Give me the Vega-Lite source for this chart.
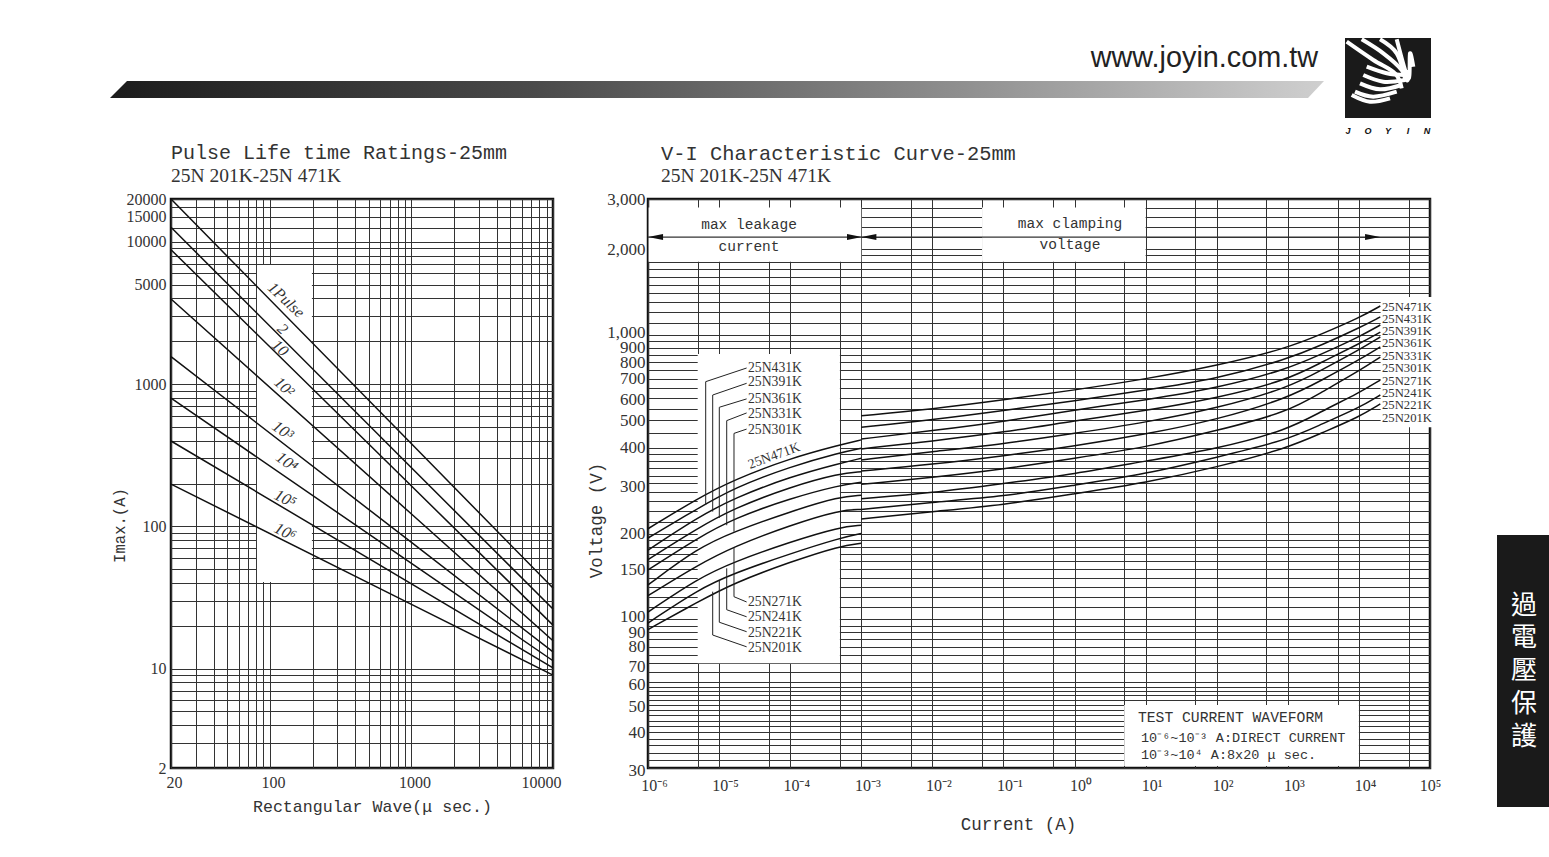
{
"$schema":"https://vega.github.io/schema/vega-lite/v6.json",
"background":"white",
"padding":{"left":110,"top":30,"right":0,"bottom":0},
"config":{"view":{"stroke":null},"axis":{"labelFont":"Liberation Serif","labelFontSize":16,"labelColor":"#333","titleFont":"Liberation Mono","titleColor":"#333","titleFontWeight":"normal","gridColor":"#333","gridWidth":1,"gridOpacity":1,"ticks":false,"domain":false,"labelOverlap":false,"labelBound":false,"labelFlush":false}},
"datasets":{
"header_band":[{"x":110,"y":98,"y2":98},{"x":127,"y":81,"y2":98},{"x":1308,"y":81,"y2":98},{"x":1324,"y":81,"y2":81}],
"header_logo":[{"x":1345,"x2":1431,"y":38,"y2":118}],
"header_stripes":[
{"s":"S1","x":1346.7,"y":41.7},{"s":"S1","x":1373.3,"y":60},{"s":"S1","x":1395,"y":73.3},{"s":"S1","x":1401.7,"y":88.3},
{"s":"S2","x":1361.7,"y":39.3},{"s":"S2","x":1383.3,"y":53.3},{"s":"S2","x":1401.7,"y":70},{"s":"S2","x":1405,"y":81.7},
{"s":"S3","x":1380,"y":39.3},{"s":"S3","x":1396.7,"y":53.3},{"s":"S3","x":1408.3,"y":70},{"s":"S3","x":1406.7,"y":80},
{"s":"S4","x":1396.7,"y":39.3},{"s":"S4","x":1410,"y":53.3},{"s":"S4","x":1413.3,"y":66.7},{"s":"S4","x":1408.3,"y":78.3},
{"s":"L1","x":1366.7,"y":66.7},{"s":"L1","x":1386.7,"y":73.3},{"s":"L1","x":1405,"y":75},
{"s":"L2","x":1363.3,"y":75},{"s":"L2","x":1383.3,"y":81.7},{"s":"L2","x":1405,"y":80},
{"s":"L3","x":1360,"y":83.3},{"s":"L3","x":1380,"y":89.3},{"s":"L3","x":1401.7,"y":85},
{"s":"L4","x":1355,"y":91.7},{"s":"L4","x":1373.3,"y":96.7},{"s":"L4","x":1396.7,"y":91.7},
{"s":"L5","x":1351.7,"y":95},{"s":"L5","x":1370,"y":101.7},{"s":"L5","x":1390,"y":98.3}],
"life_curves":[
{"p":"1Pulse","wave":20,"imax":20000},{"p":"1Pulse","wave":1000,"imax":380},{"p":"1Pulse","wave":10000,"imax":36.8},
{"p":"2","wave":20,"imax":12650},{"p":"2","wave":1000,"imax":258},{"p":"2","wave":10000,"imax":26.2},
{"p":"10","wave":20,"imax":8800},{"p":"10","wave":1000,"imax":192},{"p":"10","wave":10000,"imax":20.2},
{"p":"100","wave":20,"imax":3965},{"p":"100","wave":1000,"imax":122},{"p":"100","wave":10000,"imax":15.7},
{"p":"1000","wave":20,"imax":1557},{"p":"1000","wave":1000,"imax":77},{"p":"1000","wave":10000,"imax":13.1},
{"p":"1e4","wave":20,"imax":798},{"p":"1e4","wave":1000,"imax":54.8},{"p":"1e4","wave":10000,"imax":11.35},
{"p":"1e5","wave":20,"imax":398},{"p":"1e5","wave":1000,"imax":39.4},{"p":"1e5","wave":10000,"imax":10.1},
{"p":"1e6","wave":20,"imax":198},{"p":"1e6","wave":1000,"imax":28.3},{"p":"1e6","wave":10000,"imax":9.0}],
"vi_curves":[
{"n":"25N471K","g":"a","current":1e-6,"voltage":208},{"n":"25N431K","g":"a","current":1e-6,"voltage":193},{"n":"25N391K","g":"a","current":1e-6,"voltage":175},{"n":"25N361K","g":"a","current":1e-6,"voltage":162},{"n":"25N331K","g":"a","current":1e-6,"voltage":149},{"n":"25N301K","g":"a","current":1e-6,"voltage":132},{"n":"25N271K","g":"a","current":1e-6,"voltage":121},{"n":"25N241K","g":"a","current":1e-6,"voltage":106},{"n":"25N221K","g":"a","current":1e-6,"voltage":97},{"n":"25N201K","g":"a","current":1e-6,"voltage":92},
{"n":"25N471K","g":"a","current":5e-6,"voltage":266},{"n":"25N431K","g":"a","current":5e-6,"voltage":245},{"n":"25N391K","g":"a","current":5e-6,"voltage":228},{"n":"25N361K","g":"a","current":5e-6,"voltage":209},{"n":"25N331K","g":"a","current":5e-6,"voltage":193},{"n":"25N301K","g":"a","current":5e-6,"voltage":178},{"n":"25N271K","g":"a","current":5e-6,"voltage":155},{"n":"25N241K","g":"a","current":5e-6,"voltage":139},{"n":"25N221K","g":"a","current":5e-6,"voltage":127},{"n":"25N201K","g":"a","current":5e-6,"voltage":115},
{"n":"25N471K","g":"a","current":1.6e-5,"voltage":309},{"n":"25N431K","g":"a","current":1.6e-5,"voltage":289},{"n":"25N391K","g":"a","current":1.6e-5,"voltage":266},{"n":"25N361K","g":"a","current":1.6e-5,"voltage":245},{"n":"25N331K","g":"a","current":1.6e-5,"voltage":226},{"n":"25N301K","g":"a","current":1.6e-5,"voltage":203},{"n":"25N271K","g":"a","current":1.6e-5,"voltage":180},{"n":"25N241K","g":"a","current":1.6e-5,"voltage":159},{"n":"25N221K","g":"a","current":1.6e-5,"voltage":145},{"n":"25N201K","g":"a","current":1.6e-5,"voltage":134},
{"n":"25N471K","g":"a","current":1e-4,"voltage":368},{"n":"25N431K","g":"a","current":1e-4,"voltage":344},{"n":"25N391K","g":"a","current":1e-4,"voltage":317},{"n":"25N361K","g":"a","current":1e-4,"voltage":292},{"n":"25N331K","g":"a","current":1e-4,"voltage":266},{"n":"25N301K","g":"a","current":1e-4,"voltage":239},{"n":"25N271K","g":"a","current":1e-4,"voltage":214},{"n":"25N241K","g":"a","current":1e-4,"voltage":187},{"n":"25N221K","g":"a","current":1e-4,"voltage":170},{"n":"25N201K","g":"a","current":1e-4,"voltage":159},
{"n":"25N471K","g":"a","current":5e-4,"voltage":410},{"n":"25N431K","g":"a","current":5e-4,"voltage":385},{"n":"25N391K","g":"a","current":5e-4,"voltage":353},{"n":"25N361K","g":"a","current":5e-4,"voltage":326},{"n":"25N331K","g":"a","current":5e-4,"voltage":296},{"n":"25N301K","g":"a","current":5e-4,"voltage":270},{"n":"25N271K","g":"a","current":5e-4,"voltage":242},{"n":"25N241K","g":"a","current":5e-4,"voltage":211},{"n":"25N221K","g":"a","current":5e-4,"voltage":193},{"n":"25N201K","g":"a","current":5e-4,"voltage":181},
{"n":"25N471K","g":"a","current":1e-3,"voltage":427},{"n":"25N431K","g":"a","current":1e-3,"voltage":399},{"n":"25N391K","g":"a","current":1e-3,"voltage":368},{"n":"25N361K","g":"a","current":1e-3,"voltage":330},{"n":"25N331K","g":"a","current":1e-3,"voltage":303},{"n":"25N301K","g":"a","current":1e-3,"voltage":273},{"n":"25N271K","g":"a","current":1e-3,"voltage":243},{"n":"25N241K","g":"a","current":1e-3,"voltage":214},{"n":"25N221K","g":"a","current":1e-3,"voltage":200},{"n":"25N201K","g":"a","current":1e-3,"voltage":185},
{"n":"25N471K","g":"b","current":1e-3,"voltage":519},{"n":"25N431K","g":"b","current":1e-3,"voltage":473},{"n":"25N391K","g":"b","current":1e-3,"voltage":430},{"n":"25N361K","g":"b","current":1e-3,"voltage":397},{"n":"25N331K","g":"b","current":1e-3,"voltage":363},{"n":"25N301K","g":"b","current":1e-3,"voltage":332},{"n":"25N271K","g":"b","current":1e-3,"voltage":298},{"n":"25N241K","g":"b","current":1e-3,"voltage":265},{"n":"25N221K","g":"b","current":1e-3,"voltage":243},{"n":"25N201K","g":"b","current":1e-3,"voltage":225},
{"n":"25N471K","g":"b","current":1e-2,"voltage":548},{"n":"25N431K","g":"b","current":1e-2,"voltage":502},{"n":"25N391K","g":"b","current":1e-2,"voltage":460},{"n":"25N361K","g":"b","current":1e-2,"voltage":423},{"n":"25N331K","g":"b","current":1e-2,"voltage":388},{"n":"25N301K","g":"b","current":1e-2,"voltage":350},{"n":"25N271K","g":"b","current":1e-2,"voltage":315},{"n":"25N241K","g":"b","current":1e-2,"voltage":278},{"n":"25N221K","g":"b","current":1e-2,"voltage":258},{"n":"25N201K","g":"b","current":1e-2,"voltage":239},
{"n":"25N471K","g":"b","current":1e-1,"voltage":590},{"n":"25N431K","g":"b","current":1e-1,"voltage":541},{"n":"25N391K","g":"b","current":1e-1,"voltage":495},{"n":"25N361K","g":"b","current":1e-1,"voltage":454},{"n":"25N331K","g":"b","current":1e-1,"voltage":413},{"n":"25N301K","g":"b","current":1e-1,"voltage":375},{"n":"25N271K","g":"b","current":1e-1,"voltage":337},{"n":"25N241K","g":"b","current":1e-1,"voltage":300},{"n":"25N221K","g":"b","current":1e-1,"voltage":270},{"n":"25N201K","g":"b","current":1e-1,"voltage":252},
{"n":"25N471K","g":"b","current":1,"voltage":639},{"n":"25N431K","g":"b","current":1,"voltage":586},{"n":"25N391K","g":"b","current":1,"voltage":544},{"n":"25N361K","g":"b","current":1,"voltage":498},{"n":"25N331K","g":"b","current":1,"voltage":450},{"n":"25N301K","g":"b","current":1,"voltage":406},{"n":"25N271K","g":"b","current":1,"voltage":368},{"n":"25N241K","g":"b","current":1,"voltage":324},{"n":"25N221K","g":"b","current":1,"voltage":296},{"n":"25N201K","g":"b","current":1,"voltage":276},
{"n":"25N471K","g":"b","current":10,"voltage":699},{"n":"25N431K","g":"b","current":10,"voltage":639},{"n":"25N391K","g":"b","current":10,"voltage":590},{"n":"25N361K","g":"b","current":10,"voltage":541},{"n":"25N331K","g":"b","current":10,"voltage":492},{"n":"25N301K","g":"b","current":10,"voltage":447},{"n":"25N271K","g":"b","current":10,"voltage":402},{"n":"25N241K","g":"b","current":10,"voltage":360},{"n":"25N221K","g":"b","current":10,"voltage":324},{"n":"25N201K","g":"b","current":10,"voltage":302},
{"n":"25N471K","g":"b","current":100,"voltage":778},{"n":"25N431K","g":"b","current":100,"voltage":699},{"n":"25N391K","g":"b","current":100,"voltage":648},{"n":"25N361K","g":"b","current":100,"voltage":599},{"n":"25N331K","g":"b","current":100,"voltage":551},{"n":"25N301K","g":"b","current":100,"voltage":502},{"n":"25N271K","g":"b","current":100,"voltage":460},{"n":"25N241K","g":"b","current":100,"voltage":397},{"n":"25N221K","g":"b","current":100,"voltage":371},{"n":"25N201K","g":"b","current":100,"voltage":342},
{"n":"25N471K","g":"b","current":1000,"voltage":898},{"n":"25N431K","g":"b","current":1000,"voltage":822},{"n":"25N391K","g":"b","current":1000,"voltage":758},{"n":"25N361K","g":"b","current":1000,"voltage":693},{"n":"25N331K","g":"b","current":1000,"voltage":650},{"n":"25N301K","g":"b","current":1000,"voltage":599},{"n":"25N271K","g":"b","current":1000,"voltage":535},{"n":"25N241K","g":"b","current":1000,"voltage":463},{"n":"25N221K","g":"b","current":1000,"voltage":427},{"n":"25N201K","g":"b","current":1000,"voltage":400},
{"n":"25N471K","g":"b","current":3000,"voltage":1006},{"n":"25N431K","g":"b","current":3000,"voltage":920},{"n":"25N391K","g":"b","current":3000,"voltage":856},{"n":"25N361K","g":"b","current":3000,"voltage":802},{"n":"25N331K","g":"b","current":3000,"voltage":752},{"n":"25N301K","g":"b","current":3000,"voltage":693},{"n":"25N271K","g":"b","current":3000,"voltage":629},{"n":"25N241K","g":"b","current":3000,"voltage":539},{"n":"25N221K","g":"b","current":3000,"voltage":486},{"n":"25N201K","g":"b","current":3000,"voltage":452},
{"n":"25N471K","g":"b","current":10000,"voltage":1145},{"n":"25N431K","g":"b","current":10000,"voltage":1056},{"n":"25N391K","g":"b","current":10000,"voltage":982},{"n":"25N361K","g":"b","current":10000,"voltage":928},{"n":"25N331K","g":"b","current":10000,"voltage":884},{"n":"25N301K","g":"b","current":10000,"voltage":815},{"n":"25N271K","g":"b","current":10000,"voltage":746},{"n":"25N241K","g":"b","current":10000,"voltage":624},{"n":"25N221K","g":"b","current":10000,"voltage":553},{"n":"25N201K","g":"b","current":10000,"voltage":514},
{"n":"25N471K","g":"b","current":20000,"voltage":1262},{"n":"25N431K","g":"b","current":20000,"voltage":1155},{"n":"25N391K","g":"b","current":20000,"voltage":1082},{"n":"25N361K","g":"b","current":20000,"voltage":1022},{"n":"25N331K","g":"b","current":20000,"voltage":982},{"n":"25N301K","g":"b","current":20000,"voltage":906},{"n":"25N271K","g":"b","current":20000,"voltage":835},{"n":"25N241K","g":"b","current":20000,"voltage":693},{"n":"25N221K","g":"b","current":20000,"voltage":614},{"n":"25N201K","g":"b","current":20000,"voltage":571}],
"vi_leaders":[
{"n":"431","o":1,"current":2.44e-5,"voltage":764},{"n":"431","o":2,"current":6.48e-6,"voltage":684},{"n":"431","o":3,"current":6.48e-6,"voltage":252},
{"n":"391","o":1,"current":2.44e-5,"voltage":675},{"n":"391","o":2,"current":8.13e-6,"voltage":614},{"n":"391","o":3,"current":8.13e-6,"voltage":239},
{"n":"361","o":1,"current":2.44e-5,"voltage":595},{"n":"361","o":2,"current":1.007e-5,"voltage":556},{"n":"361","o":3,"current":1.007e-5,"voltage":227},
{"n":"331","o":1,"current":2.44e-5,"voltage":531},{"n":"331","o":2,"current":1.28e-5,"voltage":499},{"n":"331","o":3,"current":1.28e-5,"voltage":214},
{"n":"301","o":1,"current":2.44e-5,"voltage":466},{"n":"301","o":2,"current":1.62e-5,"voltage":450},{"n":"301","o":3,"current":1.62e-5,"voltage":203},
{"n":"271","o":1,"current":2.44e-5,"voltage":115},{"n":"271","o":2,"current":1.62e-5,"voltage":120},{"n":"271","o":3,"current":1.62e-5,"voltage":179},
{"n":"241","o":1,"current":2.44e-5,"voltage":102},{"n":"241","o":2,"current":1.28e-5,"voltage":108},{"n":"241","o":3,"current":1.28e-5,"voltage":151},
{"n":"221","o":1,"current":2.44e-5,"voltage":90.4},{"n":"221","o":2,"current":1.007e-5,"voltage":97.6},{"n":"221","o":3,"current":1.007e-5,"voltage":137},
{"n":"201","o":1,"current":2.44e-5,"voltage":80},{"n":"201","o":2,"current":8.13e-6,"voltage":88},{"n":"201","o":3,"current":8.13e-6,"voltage":125}],
"vi_boxes":[
{"current":1.02e-6,"current2":1e-3,"voltage":1807,"voltage2":2800},
{"current":0.05,"current2":10,"voltage":1807,"voltage2":2800},
{"current":5e-6,"current2":5e-4,"voltage":70,"voltage2":855},
{"current":5,"current2":10000,"voltage":30.5,"voltage2":50},
{"current":20200,"current2":120000,"voltage":473,"voltage2":1357}],
"vi_arrow":[{"current":1e-6,"voltage":2205},{"current":1e5,"voltage":2205}],
"vi_arrow_left":[{"current":1.63e-6,"voltage":2205},{"current":1.63e-3,"voltage":2205}],
"vi_arrow_right":[{"current":6.3e-4,"voltage":2205},{"current":12200,"voltage":2205}]
},
"vconcat":[
{"width":1260,"height":105,"layer":[
{"data":{"name":"header_band"},"mark":{"type":"area","color":{"gradient":"linear","x1":0,"x2":1,"y1":0,"y2":0,"stops":[{"offset":0,"color":"#1c1c1c"},{"offset":0.35,"color":"#4a4a4a"},{"offset":0.7,"color":"#8f8f8f"},{"offset":1,"color":"#cfcfcf"}]}},"encoding":{"x":{"field":"x","type":"quantitative","axis":null,"scale":{"domain":[171,1431],"nice":false,"zero":false}},"y":{"field":"y","type":"quantitative","axis":null,"scale":{"domain":[135,30],"nice":false,"zero":false}},"y2":{"field":"y2"}}},
{"data":{"name":"header_logo"},"mark":{"type":"rect","color":"#1a1a1a"},"encoding":{"x":{"field":"x","type":"quantitative"},"x2":{"field":"x2"},"y":{"field":"y","type":"quantitative"},"y2":{"field":"y2"}}},
{"data":{"name":"header_stripes"},"mark":{"type":"line","color":"white","strokeWidth":4,"interpolate":"cardinal"},"encoding":{"x":{"field":"x","type":"quantitative"},"y":{"field":"y","type":"quantitative"},"detail":{"field":"s"},"order":{"field":"x"}}},
{"data":{"values":[{"x":1318,"y":58,"t":"www.joyin.com.tw"}]},"mark":{"type":"text","align":"right","baseline":"middle","font":"Liberation Sans","fontSize":28.8,"color":"#222"},"encoding":{"x":{"field":"x","type":"quantitative"},"y":{"field":"y","type":"quantitative"},"text":{"field":"t"}}},
{"data":{"values":[{"x":1348,"y":131,"t":"J"},{"x":1368,"y":131,"t":"O"},{"x":1388,"y":131,"t":"Y"},{"x":1408,"y":131,"t":"I"},{"x":1427,"y":131,"t":"N"}]},"mark":{"type":"text","align":"center","baseline":"middle","font":"Liberation Sans","fontSize":9,"fontWeight":"bold","fontStyle":"italic","color":"#111"},"encoding":{"x":{"field":"x","type":"quantitative"},"y":{"field":"y","type":"quantitative"},"text":{"field":"t"}}}
]},
{"hconcat":[
{"width":382,"height":569,
"title":{"text":"Pulse Life time Ratings-25mm","subtitle":"25N 201K-25N 471K","anchor":"start","frame":"group","font":"Liberation Mono","fontSize":20,"fontWeight":"normal","color":"#333","subtitleFont":"Liberation Serif","subtitleFontSize":19.5,"subtitleColor":"#333","subtitlePadding":4,"offset":6},
"view":{"stroke":"#111","strokeWidth":2.5},
"encoding":{
"x":{"field":"wave","type":"quantitative","scale":{"type":"log","domain":[20,10000],"nice":false},
"axis":{"title":"Rectangular Wave(μ sec.)","titleFontSize":16.6,"titleX":201,"titleY":38,"titleAlign":"center","titleBaseline":"middle","grid":true,"labelPadding":6,"values":[20,30,40,50,60,70,80,90,100,200,300,400,500,600,700,800,900,1000,2000,3000,4000,5000,6000,7000,8000,9000,10000],"labelExpr":"indexof([20,100,1000,10000],datum.value)>=0?format(datum.value,'d'):''","labelOffset":{"condition":{"test":"datum.value==10000","value":-12},"value":3}}},
"y":{"field":"imax","type":"quantitative","scale":{"type":"log","domain":[2,20000],"nice":false},
"axis":{"title":"Imax.(A)","titleFontSize":15.6,"titleX":-52,"titleY":326,"titleAlign":"center","titleBaseline":"middle","grid":true,"labelPadding":5,"values":[2,3,4,5,6,7,8,9,10,20,30,40,50,60,70,80,90,100,200,300,400,500,600,700,800,900,1000,2000,3000,4000,5000,6000,7000,8000,9000,10000,12500,15000,17500,20000],"labelExpr":"indexof([2,10,100,1000,5000,10000,15000,20000],datum.value)>=0?format(datum.value,'d'):''"}}},
"layer":[
{"data":{"values":[{"wave":81,"wave2":198,"imax":40.6,"imax2":6870}]},"mark":{"type":"rect","color":"white"},"encoding":{"x2":{"field":"wave2"},"y2":{"field":"imax2"}}},
{"data":{"name":"life_curves"},"mark":{"type":"line","color":"#111","strokeWidth":1.5},"encoding":{"detail":{"field":"p"}}},
{"data":{"values":[{"wave":130,"imax":3900,"t":"1Pulse"},{"wave":123,"imax":2439,"t":"2"},{"wave":118,"imax":1793,"t":"10"},{"wave":126,"imax":953,"t":"10²"}]},"mark":{"type":"text","angle":43,"font":"Liberation Serif","fontSize":16,"color":"#333","fontStyle":"italic"},"encoding":{"text":{"field":"t"}}},
{"data":{"values":[{"wave":123,"imax":470,"t":"10³"},{"wave":131.5,"imax":283,"t":"10⁴"}]},"mark":{"type":"text","angle":36,"font":"Liberation Serif","fontSize":16.5,"color":"#333","fontStyle":"italic"},"encoding":{"text":{"field":"t"}}},
{"data":{"values":[{"wave":128,"imax":156,"t":"10⁵"},{"wave":128,"imax":91.2,"t":"10⁶"}]},"mark":{"type":"text","angle":27,"font":"Liberation Serif","fontSize":16.5,"color":"#333","fontStyle":"italic"},"encoding":{"text":{"field":"t"}}}
]},
{"width":782,"height":569,
"title":{"text":"V-I Characteristic Curve-25mm","subtitle":"25N 201K-25N 471K","anchor":"start","frame":"group","dx":13,"font":"Liberation Mono","fontSize":20.4,"fontWeight":"normal","color":"#333","subtitleFont":"Liberation Serif","subtitleFontSize":19.5,"subtitleColor":"#333","subtitlePadding":2,"offset":5},
"view":{"stroke":"#111","strokeWidth":2.5},
"encoding":{
"x":{"field":"current","type":"quantitative","scale":{"type":"log","domain":[1e-6,1e5],"nice":false},
"axis":{"title":"Current (A)","titleFontSize":17.5,"titleX":370,"titleY":56,"titleAlign":"center","titleBaseline":"middle","grid":true,"labelPadding":9,"values":[1e-6,5e-6,1e-5,5e-5,1e-4,5e-4,1e-3,5e-3,1e-2,5e-2,1e-1,5e-1,1,5,10,50,100,500,1000,5000,10000,50000,100000],"labelExpr":"abs(log(datum.value)/LN10-round(log(datum.value)/LN10))<0.01?['10⁻⁶','10⁻⁵','10⁻⁴','10⁻³','10⁻²','10⁻¹','10⁰','10¹','10²','10³','10⁴','10⁵'][round(log(datum.value)/LN10)+6]:''","labelOffset":{"condition":{"test":"datum.value>=100000","value":0},"value":6}}},
"y":{"field":"voltage","type":"quantitative","scale":{"type":"log","domain":[30,3000],"nice":false},
"axis":{"title":"Voltage (V)","titleFontSize":17.5,"titleX":-52,"titleY":321,"titleAlign":"center","titleBaseline":"middle","grid":true,"labelPadding":3,"labelFontSize":17,"values":[30,32,34,36,38,40,42,44,46,48,50,52,54,56,58,60,65,70,75,80,85,90,95,100,110,120,130,140,150,160,170,180,190,200,220,240,260,280,300,320,340,360,380,400,450,500,550,600,650,700,750,800,850,900,950,1000,1100,1200,1300,1400,1500,1600,1700,1800,1900,2000,2200,2400,2600,2800,3000],"labelExpr":"indexof([30,40,50,60,70,80,90,100,150,200,300,400,500,600,700,800,900,1000,2000,3000],datum.value)>=0?format(datum.value,','):''","labelOffset":{"condition":[{"test":"datum.value==100","value":-3},{"test":"datum.value==70","value":3.5},{"test":"datum.value==300","value":3},{"test":"datum.value==1000","value":-2},{"test":"datum.value==60","value":2},{"test":"datum.value==50","value":2},{"test":"datum.value==600","value":2},{"test":"datum.value==30","value":2}],"value":0}}}},
"layer":[
{"data":{"name":"vi_boxes"},"mark":{"type":"rect","color":"white"},"encoding":{"x2":{"field":"current2"},"y2":{"field":"voltage2"}}},
{"data":{"name":"vi_arrow"},"mark":{"type":"line","color":"#333","strokeWidth":1.2}},
{"data":{"name":"vi_arrow_left"},"mark":{"type":"point","filled":true,"color":"#111","opacity":1,"size":900,"shape":"M-1,0L0,-0.2L0,0.2Z"}},
{"data":{"name":"vi_arrow_right"},"mark":{"type":"point","filled":true,"color":"#111","opacity":1,"size":900,"shape":"M1,0L0,-0.2L0,0.2Z"}},
{"data":{"name":"vi_curves"},"mark":{"type":"line","color":"#111","strokeWidth":1.5,"interpolate":"basis"},"encoding":{"detail":[{"field":"n"},{"field":"g"}]}},
{"data":{"name":"vi_leaders"},"mark":{"type":"line","color":"#222","strokeWidth":1},"encoding":{"detail":{"field":"n"},"order":{"field":"o"}}},
{"data":{"values":[{"current":2.64e-5,"voltage":2431,"t":"max leakage"},{"current":2.64e-5,"voltage":2035,"t":"current"},{"current":0.863,"voltage":2451,"t":"max clamping"},{"current":0.863,"voltage":2060,"t":"voltage"}]},"mark":{"type":"text","font":"Liberation Mono","fontSize":14.5,"color":"#333"},"encoding":{"text":{"field":"t"}}},
{"data":{"values":[{"current":2.55e-5,"voltage":764,"t":"25N431K"},{"current":2.55e-5,"voltage":683,"t":"25N391K"},{"current":2.55e-5,"voltage":595,"t":"25N361K"},{"current":2.55e-5,"voltage":526,"t":"25N331K"},{"current":2.55e-5,"voltage":463,"t":"25N301K"},{"current":2.55e-5,"voltage":115,"t":"25N271K"},{"current":2.55e-5,"voltage":102,"t":"25N241K"},{"current":2.55e-5,"voltage":89.5,"t":"25N221K"},{"current":2.55e-5,"voltage":79,"t":"25N201K"}]},"mark":{"type":"text","align":"left","font":"Liberation Serif","fontSize":13.7,"color":"#333"},"encoding":{"text":{"field":"t"}}},
{"data":{"values":[{"current":5.92e-5,"voltage":375,"t":"25N471K"}]},"mark":{"type":"text","angle":340,"font":"Liberation Serif","fontSize":13.7,"color":"#333"},"encoding":{"text":{"field":"t"}}},
{"data":{"values":[{"current":21100,"voltage":1252,"t":"25N471K"},{"current":21100,"voltage":1136,"t":"25N431K"},{"current":21100,"voltage":1031,"t":"25N391K"},{"current":21100,"voltage":935,"t":"25N361K"},{"current":21100,"voltage":842,"t":"25N331K"},{"current":21100,"voltage":764,"t":"25N301K"},{"current":21100,"voltage":688,"t":"25N271K"},{"current":21100,"voltage":624,"t":"25N241K"},{"current":21100,"voltage":566,"t":"25N221K"},{"current":21100,"voltage":510,"t":"25N201K"}]},"mark":{"type":"text","align":"left","font":"Liberation Serif","fontSize":12.7,"color":"#333"},"encoding":{"text":{"field":"t"}}},
{"data":{"values":[{"current":7.8,"voltage":44.9,"t":"TEST CURRENT WAVEFORM"}]},"mark":{"type":"text","align":"left","font":"Liberation Mono","fontSize":14.7,"color":"#333"},"encoding":{"text":{"field":"t"}}},
{"data":{"values":[{"current":8.6,"voltage":38.2,"t":"10⁻⁶~10⁻³ A:DIRECT CURRENT"},{"current":8.6,"voltage":33.3,"t":"10⁻³~10⁴ A:8x20 μ sec."}]},"mark":{"type":"text","align":"left","font":"Liberation Mono","fontSize":13.5,"color":"#333"},"encoding":{"text":{"field":"t"}}}
]},
{"width":54,"height":569,
"layer":[
{"data":{"values":[{"x":1495,"x2":1549,"y":535,"y2":807}]},"mark":{"type":"rect","color":"#1a1a1a"},"encoding":{"x":{"field":"x","type":"quantitative","axis":null,"scale":{"domain":[1463,1517],"nice":false,"zero":false}},"x2":{"field":"x2"},"y":{"field":"y","type":"quantitative","axis":null,"scale":{"domain":[768,199],"nice":false,"zero":false}},"y2":{"field":"y2"}}},
{"data":{"values":[{"x":1522,"y":606,"t":"過"},{"x":1522,"y":638,"t":"電"},{"x":1522,"y":671,"t":"壓"},{"x":1522,"y":704,"t":"保"},{"x":1522,"y":737,"t":"護"}]},"mark":{"type":"text","font":"Noto Sans CJK TC","fontSize":26,"color":"white","baseline":"middle"},"encoding":{"x":{"field":"x","type":"quantitative"},"y":{"field":"y","type":"quantitative"},"text":{"field":"t"}}}
]}
],"spacing":22}
],"spacing":5
}
